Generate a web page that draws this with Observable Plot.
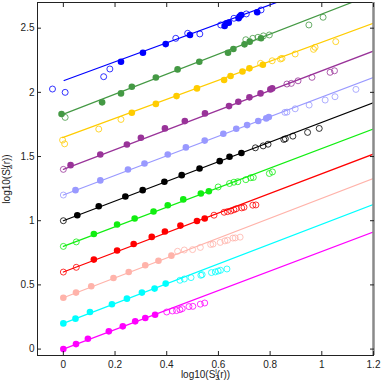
<!DOCTYPE html>
<html><head><meta charset="utf-8">
<script src="https://cdn.jsdelivr.net/npm/d3@7"></script>
<script src="https://cdn.jsdelivr.net/npm/@observablehq/plot@0.6"></script>
<style>body{margin:0;background:#fff;} svg{display:block}</style>
</head><body><div id="chart"></div>
<script>
const seriesNames = ["s0","s1","s2","s3","s4","s5","s6","s7","s8","s9","s10"];
const seriesColors = ["#ff00ff","#00ffff","#ffb3aa","#ff0000","#11ee11","#000000","#9999ff","#993399","#ffcc00","#449944","#0000ff"];
const lineIntercepts = [0, 0.2, 0.4, 0.6, 0.8, 1.0, 1.2, 1.4, 1.65, 1.83, 2.09];
const lineSlopes = [0.761, 0.772, 0.775, 0.766, 0.762, 0.766, 0.764, 0.768, 0.74, 0.78, 0.74];
const lineStarts = [0, 0, 0, 0, 0, 0, 0, 0, -0.003, -0.007, 0.003];
const lineEnds = [1.2, 1.2, 1.2, 1.2, 1.2, 1.2, 1.2, 1.2, 1.2, 1.2, 1.2];

const magentaFilled = [[0,0],[0.049,0.039],[0.095,0.081],[0.176,0.138],[0.23,0.177],[0.278,0.216],[0.317,0.242],[0.355,0.268]];
const magentaOpen = [[0.4,0.289],[0.422,0.297],[0.438,0.3],[0.451,0.307],[0.46,0.315],[0.486,0.331],[0.501,0.333],[0.53,0.35],[0.547,0.359]];
const cyanFilled = [[0,0.2],[0.047,0.237],[0.103,0.289],[0.188,0.349],[0.246,0.393],[0.304,0.44],[0.353,0.471],[0.396,0.51]];
const cyanOpen = [[0.451,0.536],[0.468,0.546],[0.494,0.557],[0.532,0.575],[0.537,0.58],[0.573,0.596],[0.588,0.601],[0.599,0.608],[0.608,0.614],[0.633,0.624]];
const pinkFilled = [[0,0.4],[0.049,0.44],[0.108,0.489],[0.194,0.554],[0.253,0.601],[0.317,0.653],[0.368,0.688],[0.418,0.728]];
const pinkOpen = [[0.442,0.762],[0.468,0.772],[0.5,0.775],[0.53,0.792],[0.57,0.815],[0.579,0.818],[0.607,0.831],[0.625,0.843],[0.635,0.848],[0.656,0.865],[0.665,0.866],[0.684,0.872]];
const redFilled = [[0.118,0.697],[0.208,0.768],[0.272,0.819],[0.342,0.874],[0.393,0.916],[0.453,0.962],[0.517,0.998],[0.547,1.017]];
const redOpen = [[0,0.6],[0.05,0.637],[0.583,1.043],[0.622,1.066],[0.635,1.071],[0.648,1.076],[0.66,1.085],[0.669,1.093],[0.69,1.1],[0.699,1.105],[0.733,1.121],[0.745,1.123]];
const greenFilled = [[0.118,0.897],[0.208,0.97],[0.276,1.017],[0.349,1.072],[0.404,1.12],[0.464,1.166],[0.532,1.212],[0.563,1.23]];
const greenOpen = [[0,0.8],[0.05,0.835],[0.599,1.263],[0.643,1.29],[0.66,1.3],[0.675,1.304],[0.706,1.32],[0.725,1.335],[0.735,1.337],[0.797,1.368],[0.809,1.38]];
const blackFilled = [[0.054,1.043],[0.137,1.113],[0.24,1.189],[0.307,1.238],[0.391,1.303],[0.458,1.355],[0.527,1.407],[0.605,1.464],[0.643,1.498],[0.689,1.527]];
const blackOpen = [[0,1.0],[0.743,1.568],[0.773,1.583],[0.792,1.596],[0.853,1.633],[0.859,1.638],[0.888,1.659],[0.945,1.688],[0.99,1.719]];
const lavenderFilled = [[0.047,1.238],[0.143,1.314],[0.25,1.399],[0.314,1.446],[0.404,1.516],[0.474,1.571],[0.547,1.624],[0.619,1.678],[0.669,1.716],[0.711,1.745],[0.754,1.777],[0.785,1.797],[0.795,1.808]];
const lavenderOpen = [[0,1.2],[0.857,1.844],[0.865,1.846],[0.897,1.872],[0.951,1.901],[1.013,1.94],[1.051,1.966],[1.132,2.023]];
const purpleFilled = [[0.028,1.433],[0.143,1.516],[0.246,1.594],[0.3,1.646],[0.393,1.719],[0.47,1.776],[0.548,1.836],[0.641,1.893],[0.677,1.927],[0.72,1.961],[0.763,1.992],[0.801,2.023],[0.808,2.031]];
const purpleOpen = [[0,1.4],[0.865,2.065],[0.882,2.07],[0.908,2.09],[0.962,2.117],[1.032,2.156],[1.049,2.168]];
const goldFilled = [[0.265,1.841],[0.358,1.91],[0.438,1.971],[0.517,2.031],[0.622,2.096],[0.647,2.127],[0.693,2.163],[0.72,2.187],[0.772,2.215]];
const goldOpen = [[-0.003,1.628],[0.005,1.599],[0.137,1.714],[0.223,1.789],[0.763,2.226],[0.808,2.246],[0.84,2.26],[0.846,2.265],[0.897,2.299],[0.968,2.335],[0.974,2.351],[1.054,2.395]];
const darkgreenFilled = [[-0.007,1.831],[0.15,1.922],[0.223,1.992],[0.265,2.044],[0.358,2.116],[0.442,2.179],[0.526,2.239],[0.637,2.309],[0.658,2.338],[0.701,2.374],[0.721,2.395],[0.765,2.421]];
const darkgreenOpen = [[0.007,1.805],[0.706,2.41],[0.733,2.421],[0.753,2.429],[0.774,2.44],[0.797,2.447],[0.95,2.525],[1.005,2.585]];
const blueFilled = [[0.223,2.239],[0.308,2.309],[0.396,2.376],[0.49,2.447],[0.624,2.517],[0.631,2.538],[0.64,2.543],[0.678,2.577],[0.682,2.59],[0.688,2.603],[0.75,2.624]];
const blueOpen = [[-0.042,2.026],[0.007,2.0],[0.156,2.122],[0.18,2.182],[0.435,2.421],[0.481,2.46],[0.528,2.455],[0.609,2.525],[0.66,2.577],[0.708,2.611],[0.765,2.642]];

const xTicks = [0, 0.2, 0.4, 0.6, 0.8, 1, 1.2];
const yTicks = [0, 0.5, 1, 1.5, 2, 2.5];
const xLabelText = "log10(S3l(r))";
const yLabelText = "log10(S2l(r))";

const filledSets = [magentaFilled, cyanFilled, pinkFilled, redFilled, greenFilled, blackFilled, lavenderFilled, purpleFilled, goldFilled, darkgreenFilled, blueFilled];
const openSets = [magentaOpen, cyanOpen, pinkOpen, redOpen, greenOpen, blackOpen, lavenderOpen, purpleOpen, goldOpen, darkgreenOpen, blueOpen];

const filledRows = [], openRows = [], lineRows = [];
seriesNames.forEach((s, i) => {
  filledSets[i].forEach(([x, y]) => filledRows.push({series: s, x, y}));
  openSets[i].forEach(([x, y]) => openRows.push({series: s, x, y}));
  [lineStarts[i], lineEnds[i]].forEach(x => lineRows.push({series: s, x, y: lineIntercepts[i] + lineSlopes[i] * x}));
});

const blank = () => "";
const chart = Plot.plot({
  width: 382, height: 382,
  marginLeft: 37, marginRight: 9, marginTop: 2, marginBottom: 27,
  x: {domain: [-0.1, 1.2]},
  y: {domain: [-0.05, 2.7]},
  color: {type: "ordinal", domain: seriesNames, range: seriesColors},
  style: {fontFamily: "'Liberation Sans', Arial, sans-serif", fontSize: "10px", background: "white", color: "#222"},
  marks: [
    Plot.line(lineRows, {x: "x", y: "y", z: "series", stroke: "series", strokeWidth: 1.2, clip: true}),
    Plot.dot(openRows, {x: "x", y: "y", stroke: "series", r: 3, strokeWidth: 0.8, clip: true}),
    Plot.dot(filledRows, {x: "x", y: "y", fill: "series", r: 3.3, clip: true}),
    Plot.frame({stroke: "#222"}),
    Plot.ruleX([1.2], {stroke: "#8a8a8a", strokeWidth: 2.5}),
    Plot.axisX(xTicks, {anchor: "bottom", tickSize: 0, tickPadding: 5, tickFormat: d => String(d), label: xLabelText, labelAnchor: "center", labelOffset: 22, labelArrow: "none"}),
    Plot.axisX(xTicks, {anchor: "bottom", tickSize: 4, dy: -4, tickFormat: blank, label: null}),
    Plot.axisX(xTicks, {anchor: "top", tickSize: 4, dy: 4, tickFormat: blank, label: null}),
    Plot.axisY(yTicks, {anchor: "left", tickSize: 0, tickPadding: 3, tickFormat: d => String(d), label: yLabelText, labelAnchor: "center", labelOffset: 35, labelArrow: "none"}),
    Plot.axisY(yTicks, {anchor: "left", tickSize: 4, dx: 4, tickFormat: blank, label: null}),
    Plot.axisY(yTicks, {anchor: "right", tickSize: 4, dx: -4, tickFormat: blank, label: null})
  ]
});
document.getElementById("chart").appendChild(chart);

// rebuild axis labels with subscript / superscript
function richLabel(plain, sub) {
  d3.select(chart).selectAll("text").filter(function() { return this.textContent === plain; }).each(function() {
    const t = d3.select(this);
    t.text(null);
    t.append("tspan").text("log10(S");
    t.append("tspan").attr("dy", "2.5").attr("font-size", "7px").text(sub);
    t.append("tspan").attr("dx", "-4").attr("dy", "-6.5").attr("font-size", "7px").text("l");
    t.append("tspan").attr("dy", "4").text("(r))");
  });
}
richLabel(xLabelText, "3");
richLabel(yLabelText, "2");
</script>
</body></html>
